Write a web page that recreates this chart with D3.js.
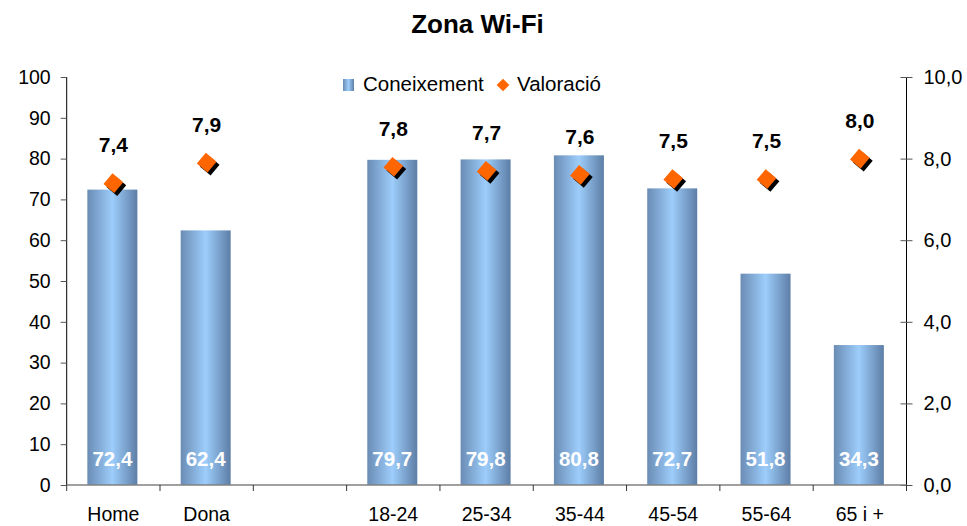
<!DOCTYPE html>
<html>
<head>
<meta charset="utf-8">
<script src="https://cdnjs.cloudflare.com/ajax/libs/d3/7.8.5/d3.min.js"></script>
<style>
  body { margin: 0; background: #fff; }
  text { font-family: Arial, "Liberation Sans", sans-serif; }
</style>
</head>
<body>
<svg id="chart"></svg>
<script>
// dades
var categories = ["Home", "Dona", "", "18-24", "25-34", "35-44", "45-54", "55-64", "65 i +"];
var coneixement = [72.4, 62.4, null, 79.7, 79.8, 80.8, 72.7, 51.8, 34.3];
var valoracio = [7.4, 7.9, null, 7.8, 7.7, 7.6, 7.5, 7.5, 8.0];
var leftTicks = [0, 10, 20, 30, 40, 50, 60, 70, 80, 90, 100];
var rightTicks = [0, 2, 4, 6, 8, 10];

var size = { width: 967, height: 526 };
var plot = { left: 66.7, right: 906.5, top: 77, bottom: 485 };

var fmt = function(v){ return v.toFixed(1).replace(".", ","); };

var svg = d3.select("#chart")
  .attr("width", size.width)
  .attr("height", size.height);

var defs = svg.append("defs");
var grad = defs.append("linearGradient")
  .attr("id", "barGrad")
  .attr("x1", "0%").attr("x2", "100%").attr("y1", "0%").attr("y2", "0%");
grad.append("stop").attr("offset", "0%").attr("stop-color", "#6a8cb4");
grad.append("stop").attr("offset", "50%").attr("stop-color", "#9dcdfb");
grad.append("stop").attr("offset", "100%").attr("stop-color", "#5d7ea6");

var x = d3.scaleBand()
  .domain(d3.range(categories.length))
  .range([plot.left, plot.right])
  .paddingInner(0).paddingOuter(0);

var y = d3.scaleLinear().domain([0, 100]).range([plot.bottom, plot.top]);
var y2 = d3.scaleLinear().domain([0, 10]).range([plot.bottom, plot.top]);

// títol
svg.append("text")
  .attr("x", 477.5).attr("y", 33)
  .attr("text-anchor", "middle")
  .attr("font-size", "26px").attr("font-weight", "bold")
  .text("Zona Wi-Fi");

// barres
var barW = 50;
var barData = coneixement.map(function(v, i){ return { v: v, i: i }; }).filter(function(d){ return d.v != null; });
svg.selectAll("rect.bar")
  .data(barData)
  .enter().append("rect")
  .attr("class", "bar")
  .attr("x", function(d){ return x(d.i) + x.bandwidth() / 2 - barW / 2 - 1; })
  .attr("y", function(d){ return y(d.v); })
  .attr("width", barW)
  .attr("height", function(d){ return y(0) - y(d.v); })
  .attr("fill", "url(#barGrad)");

// etiquetes de barres
svg.selectAll("text.barlab")
  .data(barData)
  .enter().append("text")
  .attr("class", "barlab")
  .attr("x", function(d){ return x(d.i) + x.bandwidth() / 2 - 1; })
  .attr("y", 466)
  .attr("text-anchor", "middle")
  .attr("font-size", "20.5px").attr("font-weight", "bold")
  .attr("fill", "#fff")
  .text(function(d){ return fmt(d.v); });

// eix esquerre
var leftAxis = svg.append("g")
  .attr("transform", "translate(" + plot.left + ",0)")
  .call(d3.axisLeft(y).tickValues(leftTicks).tickSize(6).tickPadding(10).tickFormat(d3.format("d")));
leftAxis.select(".domain").attr("stroke", "#000").attr("d", "M0," + plot.top + "V" + plot.bottom);
leftAxis.selectAll(".tick line").attr("stroke", "#555");
leftAxis.selectAll("text").attr("font-size", "19.5px").attr("fill", "#000").attr("font-family", "Arial, 'Liberation Sans', sans-serif");

// eix dret
var rightAxis = svg.append("g")
  .attr("transform", "translate(" + plot.right + ",0)")
  .call(d3.axisRight(y2).tickValues(rightTicks).tickSize(6).tickPadding(11).tickFormat(fmt));
rightAxis.select(".domain").attr("stroke", "#000").attr("d", "M0," + plot.top + "V" + plot.bottom);
rightAxis.selectAll(".tick line").attr("stroke", "#555").attr("x1", -6);
rightAxis.selectAll("text").attr("font-size", "20px").attr("fill", "#000").attr("font-family", "Arial, 'Liberation Sans', sans-serif");

// eix inferior
var bottom = svg.append("g");
bottom.append("line")
  .attr("x1", plot.left).attr("x2", plot.right)
  .attr("y1", plot.bottom).attr("y2", plot.bottom)
  .attr("stroke", "#808080").attr("stroke-width", 1.5);
bottom.selectAll("line.tick")
  .data(d3.range(categories.length + 1))
  .enter().append("line")
  .attr("class", "tick")
  .attr("x1", function(i){ return plot.left + i * x.bandwidth(); })
  .attr("x2", function(i){ return plot.left + i * x.bandwidth(); })
  .attr("y1", plot.bottom).attr("y2", plot.bottom + 6)
  .attr("stroke", "#333");
bottom.selectAll("text")
  .data(categories)
  .enter().append("text")
  .attr("x", function(d, i){ return x(i) + x.bandwidth() / 2; })
  .attr("y", 521)
  .attr("text-anchor", "middle")
  .attr("font-size", "19.5px")
  .text(function(d){ return d; });

// valoració: rombes
var pts = valoracio.map(function(v, i){ return { v: v, i: i }; }).filter(function(d){ return d.v != null; });
var dsz = 14;
var marks = svg.selectAll("g.pt")
  .data(pts)
  .enter().append("g")
  .attr("class", "pt")
  .attr("transform", function(d){ return "translate(" + (x(d.i) + x.bandwidth() / 2) + "," + y2(d.v) + ")"; });
marks.append("rect")
  .attr("x", -dsz / 2).attr("y", -dsz / 2).attr("width", dsz).attr("height", dsz)
  .attr("fill", "#000")
  .attr("transform", "translate(3,3) rotate(40)");
marks.append("rect")
  .attr("x", -dsz / 2).attr("y", -dsz / 2).attr("width", dsz).attr("height", dsz)
  .attr("fill", "#ff6600")
  .attr("transform", "rotate(40)");
marks.append("text")
  .attr("y", -31)
  .attr("text-anchor", "middle")
  .attr("font-size", "21px").attr("font-weight", "bold")
  .text(function(d){ return fmt(d.v); });

// llegenda
var legend = svg.append("g");
legend.append("rect")
  .attr("x", 343).attr("y", 79).attr("width", 11).attr("height", 12)
  .attr("fill", "url(#barGrad)");
legend.append("text")
  .attr("x", 363).attr("y", 91)
  .attr("font-size", "20.5px")
  .text("Coneixement");
legend.append("rect")
  .attr("x", -4.5).attr("y", -4.5).attr("width", 9).attr("height", 9)
  .attr("fill", "#ff6600")
  .attr("transform", "translate(503,85) rotate(45)");
legend.append("text")
  .attr("x", 517).attr("y", 91)
  .attr("font-size", "20.5px")
  .text("Valoració");
</script>
</body>
</html>
